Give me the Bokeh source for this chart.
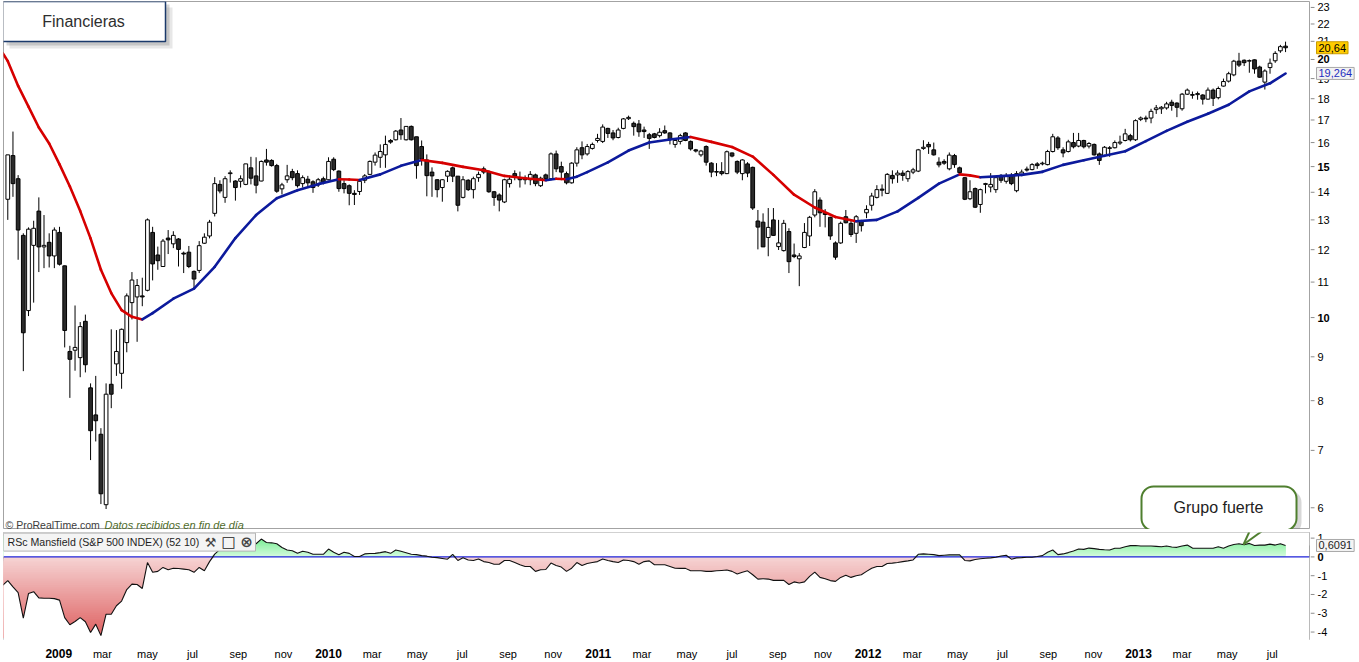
import numpy as np
import pandas as pd
from bokeh.plotting import figure
from bokeh.models import Range1d, Label, BoxAnnotation
from bokeh.layouts import column, row
from bokeh.core.properties import value
from bokeh.embed import file_html
from bokeh.resources import INLINE

FONT = "Liberation Sans"

# ---------------- data (weekly candles, first week ending 2008-10-24) ----------------
first_week = "2008-10-24"
opens = [13.74, 15.45, 14.52, 12.47, 10.19, 12.14, 13.31, 12.09, 12.24, 11.80,
 12.57, 11.49, 9.13, 9.16, 8.98, 9.90, 8.28, 7.70, 7.31, 6.05,
 8.36, 8.83, 8.61, 9.35, 10.41, 10.57, 10.60, 10.76, 12.57, 11.83,
 11.47, 12.38, 12.19, 12.35, 11.89, 11.92, 11.32, 11.35, 12.21, 12.45,
 13.23, 14.30, 13.81, 14.72, 14.43, 14.42, 14.30, 14.95, 14.63, 14.43,
 15.27, 15.25, 15.04, 14.13, 14.48, 14.80, 14.72, 14.33, 14.50, 14.40,
 14.28, 14.52, 14.48, 15.30, 14.82, 14.33, 14.25, 13.96, 14.03, 14.46,
 14.69, 15.18, 15.38, 15.48, 16.09, 16.12, 16.55, 16.12, 16.71, 16.25,
 15.83, 15.27, 14.78, 14.48, 14.18, 14.62, 14.95, 14.62, 13.81, 14.46,
 14.10, 14.56, 14.91, 14.78, 14.02, 13.90, 13.64, 14.33, 14.72, 14.56,
 14.54, 14.48, 14.67, 14.25, 14.67, 14.52, 15.52, 15.00, 14.72, 14.36,
 15.14, 15.78, 15.52, 15.75, 16.09, 16.05, 16.62, 16.42, 16.22, 16.62,
 17.06, 16.85, 16.82, 16.55, 16.34, 16.38, 16.30, 16.52, 16.42, 15.92,
 16.05, 16.42, 16.05, 15.69, 15.48, 15.83, 15.14, 14.80, 14.80, 14.72,
 15.56, 15.21, 14.72, 15.11, 14.97, 12.96, 12.92, 12.40, 13.00, 12.10,
 11.97, 12.60, 11.83, 11.71, 12.07, 12.45, 13.17, 13.71, 13.25, 13.09,
 12.22, 12.22, 13.11, 12.88, 12.54, 12.94, 13.25, 13.52, 13.81, 14.12,
 13.96, 14.65, 14.67, 14.74, 14.52, 14.78, 14.82, 15.75, 15.92, 15.69,
 15.18, 15.21, 14.91, 15.45, 14.95, 14.56, 13.76, 14.14, 13.55, 14.30,
 14.20, 14.10, 14.65, 14.42, 14.65, 14.06, 14.69, 14.90, 14.88, 15.11,
 15.11, 15.08, 15.62, 16.20, 15.69, 15.62, 16.00, 15.85, 16.09, 15.85,
 15.92, 15.52, 15.45, 15.75, 15.78, 15.98, 16.09, 16.30, 16.12, 17.03,
 17.09, 17.09, 17.48, 17.52, 17.56, 17.83, 17.79, 17.52, 18.22, 18.20,
 18.20, 18.18, 17.98, 18.42, 18.05, 18.62, 18.87, 19.19, 19.91, 19.96,
 19.91, 19.98, 19.60, 18.82, 19.57, 19.93, 20.47, 20.73]
highs = [15.48, 16.48, 14.66, 12.54, 12.74, 12.97, 13.81, 13.17, 12.54, 12.74,
 12.76, 11.50, 9.27, 10.33, 9.88, 10.08, 8.38, 8.55, 7.43, 8.38,
 9.69, 9.67, 9.71, 10.67, 11.30, 11.09, 11.13, 13.05, 12.76, 12.10,
 12.35, 12.65, 12.61, 12.38, 11.94, 12.12, 11.35, 12.28, 12.54, 13.00,
 14.58, 14.46, 14.62, 14.85, 14.46, 14.65, 15.11, 15.40, 15.38, 15.25,
 15.73, 15.30, 15.11, 14.36, 15.07, 14.91, 14.85, 14.65, 14.63, 14.46,
 14.55, 14.60, 15.38, 15.38, 14.85, 14.46, 14.30, 14.08, 14.46, 14.70,
 15.25, 15.58, 15.92, 16.30, 16.15, 16.55, 17.09, 16.71, 16.75, 16.25,
 16.09, 15.50, 14.97, 14.50, 14.50, 14.85, 15.00, 14.62, 14.62, 14.50,
 14.60, 14.80, 15.00, 14.85, 14.05, 13.96, 14.52, 14.65, 14.85, 14.80,
 14.65, 14.82, 14.72, 14.60, 14.72, 15.58, 15.66, 15.20, 14.80, 15.18,
 15.80, 16.05, 15.94, 16.00, 16.38, 16.80, 16.65, 16.55, 16.65, 17.09,
 17.20, 16.93, 17.00, 16.70, 16.42, 16.42, 16.63, 16.75, 16.45, 16.16,
 16.38, 16.45, 16.09, 15.73, 15.69, 15.88, 15.18, 15.14, 15.18, 15.66,
 15.58, 15.25, 15.30, 15.18, 15.00, 13.35, 13.23, 13.42, 13.42, 13.00,
 13.00, 12.71, 12.20, 11.89, 12.89, 13.14, 14.12, 13.81, 13.38, 13.11,
 12.27, 12.94, 13.35, 13.00, 13.17, 13.00, 13.52, 13.98, 14.27, 14.30,
 14.74, 14.85, 14.85, 14.85, 14.86, 14.95, 15.73, 16.10, 16.03, 16.00,
 15.38, 15.30, 15.58, 15.52, 15.00, 14.58, 14.46, 14.18, 14.14, 14.36,
 14.74, 14.60, 14.70, 14.74, 14.74, 14.82, 14.88, 15.00, 15.14, 15.18,
 15.20, 15.69, 16.38, 16.28, 15.80, 16.12, 16.42, 16.42, 16.12, 16.02,
 15.96, 15.58, 15.85, 15.85, 16.09, 16.30, 16.60, 16.38, 17.03, 17.16,
 17.20, 17.52, 17.70, 17.65, 17.85, 17.95, 17.83, 18.28, 18.50, 18.35,
 18.35, 18.22, 18.55, 18.50, 18.60, 19.00, 19.35, 19.98, 20.36, 20.00,
 20.00, 20.00, 19.67, 19.48, 20.05, 20.45, 20.80, 20.98]
lows = [13.00, 13.83, 11.68, 8.66, 10.04, 10.41, 11.30, 11.42, 11.44, 11.42,
 11.50, 9.23, 8.06, 8.67, 8.52, 8.63, 6.82, 7.17, 6.06, 5.98,
 7.84, 8.55, 8.26, 9.11, 9.95, 9.37, 10.31, 10.73, 11.05, 11.37,
 11.47, 11.86, 12.05, 11.47, 11.27, 11.42, 10.82, 11.27, 12.19, 12.37,
 13.12, 13.96, 13.61, 14.37, 13.69, 14.18, 14.27, 14.30, 13.96, 14.42,
 15.04, 15.00, 13.98, 13.92, 14.36, 14.46, 14.18, 14.18, 14.22, 13.98,
 14.20, 14.30, 14.46, 14.82, 14.02, 13.96, 13.52, 13.53, 13.90, 14.35,
 14.66, 15.04, 14.95, 14.95, 15.95, 16.09, 16.12, 16.09, 16.09, 14.52,
 15.04, 13.85, 13.83, 13.81, 13.65, 14.39, 14.39, 13.30, 13.77, 14.05,
 13.77, 14.40, 14.70, 13.98, 13.50, 13.30, 13.60, 14.18, 14.46, 14.18,
 14.30, 14.27, 14.23, 14.20, 14.44, 14.46, 14.78, 14.46, 14.30, 14.33,
 15.00, 15.30, 15.45, 15.70, 16.00, 15.98, 16.20, 16.10, 16.18, 16.58,
 17.00, 16.30, 16.25, 16.20, 15.73, 16.18, 16.22, 16.38, 15.92, 15.78,
 15.92, 16.06, 15.66, 15.58, 15.40, 15.04, 14.58, 14.62, 14.65, 14.70,
 15.38, 14.70, 14.46, 14.58, 13.35, 12.01, 12.09, 11.79, 12.45, 11.99,
 11.94, 11.27, 11.73, 10.88, 12.05, 12.12, 13.09, 12.76, 12.74, 12.32,
 11.68, 12.19, 12.88, 12.42, 12.22, 12.60, 13.06, 13.33, 13.77, 13.85,
 13.94, 14.33, 14.36, 14.44, 14.40, 14.70, 14.78, 15.69, 15.52, 15.45,
 14.97, 15.07, 14.85, 14.95, 14.70, 13.71, 13.71, 13.42, 13.25, 13.96,
 14.00, 13.98, 14.36, 14.33, 14.27, 14.00, 14.62, 14.80, 14.85, 14.91,
 15.05, 15.05, 15.58, 15.69, 15.38, 15.58, 15.75, 15.80, 15.75, 15.75,
 15.45, 15.07, 15.40, 15.40, 15.75, 15.90, 16.05, 16.05, 16.07, 16.95,
 16.90, 16.85, 17.28, 17.28, 17.48, 17.43, 17.13, 17.43, 18.18, 18.00,
 17.95, 17.72, 17.95, 17.65, 17.97, 18.60, 18.80, 19.12, 19.60, 19.65,
 19.30, 19.25, 19.04, 18.45, 19.25, 19.82, 20.36, 20.40]
closes = [15.48, 14.33, 12.65, 9.60, 12.68, 12.71, 12.09, 12.14, 11.80, 12.65,
 11.54, 9.66, 8.94, 9.23, 9.76, 8.81, 7.38, 7.58, 6.23, 8.14,
 8.14, 9.13, 9.69, 10.60, 11.06, 10.90, 10.57, 13.00, 11.55, 11.65,
 12.28, 12.32, 12.47, 12.01, 11.86, 11.47, 11.09, 12.13, 12.41, 12.92,
 14.33, 14.05, 14.52, 14.75, 14.18, 14.52, 15.11, 14.54, 14.27, 15.21,
 15.18, 15.04, 14.04, 14.28, 14.63, 14.56, 14.25, 14.56, 14.36, 14.18,
 14.48, 14.40, 15.21, 14.88, 14.14, 14.14, 13.96, 13.92, 14.42, 14.63,
 15.21, 15.47, 15.62, 15.92, 16.02, 16.50, 16.34, 16.71, 16.12, 15.04,
 15.31, 14.64, 14.63, 14.10, 14.48, 14.81, 14.62, 13.52, 14.48, 14.10,
 14.52, 14.69, 14.78, 14.02, 13.81, 13.71, 14.48, 14.50, 14.62, 14.48,
 14.48, 14.69, 14.33, 14.54, 14.52, 15.52, 14.91, 14.78, 14.36, 15.14,
 15.69, 15.48, 15.83, 15.92, 16.18, 16.68, 16.40, 16.20, 16.55, 17.05,
 17.12, 16.70, 16.47, 16.48, 16.18, 16.22, 16.45, 16.42, 16.15, 16.09,
 16.30, 16.09, 15.73, 15.64, 15.64, 15.18, 14.78, 14.78, 14.72, 15.61,
 15.43, 14.78, 15.27, 14.74, 13.42, 12.75, 12.09, 12.74, 12.47, 12.22,
 12.88, 11.62, 11.78, 11.80, 12.57, 13.09, 14.02, 13.25, 13.19, 12.45,
 11.76, 12.88, 12.90, 12.50, 13.11, 12.80, 13.37, 13.86, 14.10, 14.08,
 14.69, 14.52, 14.74, 14.65, 14.80, 14.87, 15.69, 15.80, 15.82, 15.48,
 15.07, 15.14, 15.47, 15.08, 14.76, 13.74, 14.02, 13.45, 14.10, 14.33,
 14.30, 14.56, 14.46, 14.65, 14.33, 14.72, 14.78, 14.86, 15.08, 15.04,
 15.14, 15.62, 16.25, 15.78, 15.56, 16.03, 15.82, 16.09, 15.82, 15.96,
 15.48, 15.25, 15.80, 15.78, 16.00, 16.02, 16.38, 16.12, 16.97, 17.09,
 17.05, 17.40, 17.56, 17.59, 17.75, 17.68, 17.59, 18.22, 18.42, 18.17,
 18.25, 17.98, 18.42, 18.02, 18.50, 18.85, 19.25, 19.91, 19.70, 19.83,
 19.94, 19.50, 19.07, 19.39, 19.80, 20.33, 20.70, 20.64]

# moving average, week index -> value
ma_weeks = [-1, 0, 2, 4, 6, 8, 10, 12, 14, 16, 18, 20, 22, 24, 26, 28, 32, 36, 40, 44,
 48, 52, 56, 60, 64, 66, 68, 72, 76, 80, 84, 88, 92, 96, 100, 104, 106, 108, 110, 112,
 116, 120, 124, 128, 132, 136, 140, 144, 148, 152, 156, 160, 164, 168, 172, 176, 180, 184, 186, 188,
 192, 196, 200, 204, 208, 212, 216, 220, 224, 228, 232, 236, 240, 244, 247]
ma_values = [20.35, 19.91, 18.63, 17.62, 16.66, 15.96, 15.09, 14.22, 13.31, 12.37,
 11.37, 10.68, 10.20, 10.02, 9.95, 10.12, 10.52, 10.81, 11.46, 12.38,
 13.17, 13.78, 14.08, 14.31, 14.50, 14.49, 14.47, 14.69, 15.03, 15.27,
 15.15, 14.99, 14.85, 14.63, 14.54, 14.46, 14.52, 14.50, 14.60, 14.78,
 15.17, 15.66, 16.00, 16.13, 16.24, 16.03, 15.81, 15.41, 14.67, 13.91,
 13.44, 13.10, 12.95, 13.00, 13.30, 13.79, 14.33, 14.69, 14.65, 14.58,
 14.62, 14.67, 14.79, 15.07, 15.26, 15.44, 15.63, 16.06, 16.51, 16.92,
 17.29, 17.71, 18.36, 18.76, 19.26]
ma_last = 19.264

# RSc Mansfield (S&P 500 INDEX) (52 10), weeks -1 .. 247
rs_values = [-1.51, -1.26, -1.60, -1.90, -3.26, -1.95, -1.85, -2.18, -2.20, -2.20,
 -2.22, -2.30, -3.23, -3.61, -3.44, -3.23, -3.45, -4.02, -3.58, -4.19,
 -3.05, -3.05, -2.60, -2.35, -1.74, -1.45, -1.47, -1.68, -0.30, -0.82,
 -0.77, -0.56, -0.68, -0.60, -0.62, -0.65, -0.68, -0.82, -0.56, -0.74,
 -0.25, 0.15, 0.40, 0.60, 0.70, 0.80, 0.75, 0.85, 0.80, 0.70,
 0.95, 0.77, 0.75, 0.70, 0.50, 0.37, 0.33, 0.19, 0.30, 0.25,
 0.14, 0.14, 0.14, 0.42, 0.25, 0.11, 0.25, 0.19, 0.02, 0.02,
 0.16, 0.18, 0.19, 0.23, 0.28, 0.19, 0.37, 0.30, 0.22, 0.14,
 0.12, 0.07, 0.04, -0.02, -0.04, -0.08, -0.12, 0.14, -0.19, -0.04,
 -0.16, -0.19, -0.11, -0.25, -0.30, -0.39, -0.39, -0.19, -0.19, -0.30,
 -0.42, -0.51, -0.51, -0.77, -0.68, -0.67, -0.33, -0.46, -0.54, -0.77,
 -0.60, -0.30, -0.46, -0.35, -0.30, -0.25, -0.11, -0.19, -0.25, -0.30,
 -0.16, -0.19, -0.25, -0.39, -0.25, -0.21, -0.42, -0.42, -0.42, -0.51,
 -0.60, -0.61, -0.61, -0.74, -0.74, -0.74, -0.77, -0.77, -0.74, -0.72,
 -0.70, -0.77, -0.91, -0.82, -0.74, -0.95, -1.18, -1.16, -1.18, -1.25,
 -1.25, -1.25, -1.47, -1.33, -1.39, -1.33, -1.04, -0.81, -1.09, -1.16,
 -1.26, -1.30, -1.09, -0.98, -1.09, -1.00, -0.95, -0.77, -0.60, -0.51,
 -0.51, -0.35, -0.33, -0.30, -0.25, -0.21, -0.16, 0.14, 0.16, 0.14,
 0.12, 0.07, 0.09, 0.11, 0.11, 0.11, -0.19, -0.21, -0.14, -0.10,
 -0.07, -0.05, -0.02, 0.05, 0.09, -0.12, -0.05, -0.04, -0.02, -0.02,
 0.02, 0.07, 0.25, 0.37, 0.12, 0.16, 0.23, 0.32, 0.42, 0.40,
 0.47, 0.44, 0.40, 0.38, 0.37, 0.46, 0.46, 0.54, 0.60, 0.61,
 0.58, 0.58, 0.58, 0.56, 0.54, 0.58, 0.53, 0.51, 0.58, 0.63,
 0.47, 0.46, 0.46, 0.46, 0.46, 0.54, 0.46, 0.58, 0.66, 0.70,
 0.65, 0.72, 0.61, 0.63, 0.63, 0.68, 0.63, 0.70, 0.61]
rs_last = 0.6091

price_ticks = list(range(6, 24))
bold_price_ticks = [10, 15, 20]
rs_ticks = [-4, -3, -2, -1, 0, 1]
bold_rs_ticks = [0]
tick_dates = pd.date_range("2009-01-01", "2013-07-01", freq="2MS")
month_names = {3: "mar", 5: "may", 7: "jul", 9: "sep", 11: "nov"}

# ---------------- geometry ----------------
WEEK = 7 * 24 * 3600 * 1000.0
t0 = pd.Timestamp(first_week).value / 1e6
O, H, L_, C = (np.array(a, dtype=float) for a in (opens, highs, lows, closes))
xs = t0 + WEEK * np.arange(len(C))

FW, FH1, FH2 = 1306, 528, 108
GAP = 3
SIDE_W = 45
AX_H = 20
XS = t0 - 0.83 * WEEK
XE = XS + 252.46 * WEEK
Y1_LO, Y1_HI = 5.66, 23.37
Y2_LO, Y2_HI = -4.45, 1.3


def xd(px):
    return XS + px * (XE - XS) / FW


def ym(px):
    return float(np.exp(np.log(Y1_HI) - px * (np.log(Y1_HI) - np.log(Y1_LO)) / FH1))


def yb(px):
    return Y2_HI - px * (Y2_HI - Y2_LO) / FH2


xr = Range1d(XS, XE)
y1r = Range1d(Y1_LO, Y1_HI)
y2r = Range1d(Y2_LO, Y2_HI)
common = dict(output_backend="svg", toolbar_location=None,
              x_axis_location=None, y_axis_location=None)

p1 = figure(width=3 + FW + 1, height=FH1 + 1, x_range=xr, y_range=y1r, y_axis_type="log",
            min_border_left=3, min_border_right=1, min_border_top=1, min_border_bottom=0, **common)
s1 = figure(width=SIDE_W, height=FH1 + 1, x_range=Range1d(0, SIDE_W), y_range=y1r,
            y_axis_type="log", min_border_left=0, min_border_right=0, min_border_top=1,
            min_border_bottom=0, **common)
p2 = figure(width=3 + FW + 1, height=FH2 + GAP, x_range=xr, y_range=y2r,
            min_border_left=3, min_border_right=1, min_border_top=GAP, min_border_bottom=0, **common)
s2 = figure(width=SIDE_W, height=FH2 + GAP, x_range=Range1d(0, SIDE_W), y_range=y2r,
            min_border_left=0, min_border_right=0, min_border_top=GAP, min_border_bottom=0, **common)
p3 = figure(width=3 + FW + 1, height=AX_H, x_range=xr, y_range=Range1d(0, AX_H),
            min_border_left=3, min_border_right=1, min_border_top=0, min_border_bottom=0, **common)

for p in (p1, s1, p2, s2, p3):
    p.grid.visible = False
    p.background_fill_color = "white"
    p.border_fill_color = "white"
    p.outline_line_color = None
for p in (p1, p2):
    p.outline_line_color = "#a3a3a3"

# ---------------- candles ----------------
up = C >= O
p1.segment(x0=xs, y0=H, x1=xs, y1=L_, line_color="black", line_width=1)
p1.vbar(x=xs[up], width=0.72 * WEEK, top=C[up], bottom=O[up],
        fill_color="white", line_color="black", line_width=1)
p1.vbar(x=xs[~up], width=0.72 * WEEK, top=O[~up], bottom=C[~up],
        fill_color="#2a2a2a", line_color="black", line_width=1)

# ---------------- moving average (red falling / blue rising) ----------------
mx = t0 + WEEK * np.array(ma_weeks, dtype=float)
my = np.array(ma_values, dtype=float)
seg_col = ["#d60000" if b < a else "#0c1a9c" for a, b in zip(my[:-1], my[1:])]
p1.segment(x0=mx[:-1], y0=my[:-1], x1=mx[1:], y1=my[1:], line_color=seg_col,
           line_width=2.6, line_cap="round")

# ---------------- RS panel ----------------
rv = np.array(rs_values, dtype=float)
rx = t0 + WEEK * (np.arange(len(rv)) - 1)


def mix(c0, c1, t):
    t = max(0.0, min(1.0, t))
    return "#%02x%02x%02x" % tuple(int(round(a + (b - a) * t)) for a, b in zip(c0, c1))


# gradient fills: stacked quads (light first, darker ones over the outer part),
# kept inside the panel so their edges are always under the white masks
red_tops = np.arange(0, -4.25, -0.1)
p2.quad(left=rx[0], right=rx[-1], top=red_tops, bottom=-4.3,
        fill_color=[mix((246, 212, 212), (222, 98, 98), -(t - 0.05) / 4.2) for t in red_tops],
        line_color=None)
green_bottoms = np.arange(0, 1.0, 0.05)
p2.quad(left=rx[0], right=rx[-1], bottom=green_bottoms, top=1.1,
        fill_color=[mix((214, 251, 222), (118, 238, 146), (b + 0.025) / 1.0) for b in green_bottoms],
        line_color=None)
# white masks outside the area between the RS line and zero (extended to the right edge)
mask_x = np.append(rx, XE)
low_edge = np.minimum(rv, 0)
high_edge = np.maximum(rv, 0)
p2.varea(x=mask_x, y1=Y2_LO - 1, y2=np.append(low_edge, low_edge[-1]), fill_color="white")
p2.varea(x=mask_x, y1=np.append(high_edge, high_edge[-1]), y2=Y2_HI + 1, fill_color="white")
p2.line(x=[XS, XE], y=[0, 0], line_color="#1e22d8", line_width=1.2)
p2.line(x=rx, y=rv, line_color="#111111", line_width=1.1)

# callout tail entering the RS panel
tail_x = [xd(1246), xd(1258), xd(1240)]
tail_y = [yb(-1), yb(-1), yb(12)]
p2.patch(x=tail_x, y=tail_y, fill_color="white", line_color=None)
p2.multi_line(xs=[[tail_x[0], tail_x[2]], [tail_x[1], tail_x[2]]],
              ys=[[tail_y[0], tail_y[2]], [tail_y[1], tail_y[2]]],
              line_color="#4f7f2f", line_width=2)


def box(p, l, r, t, b, fill, fill_alpha=1.0, line=None, lw=1.0, radius=None):
    bx = BoxAnnotation(left=l, right=r, top=t, bottom=b, fill_color=fill, fill_alpha=fill_alpha,
                       line_color=line, line_alpha=1.0 if line else 0.0, line_width=lw)
    if radius:
        try:
            bx.border_radius = radius
        except Exception:
            pass
    p.add_layout(bx)


def lab(p, x, y, text, size="11px", color="black", style="normal", align="left",
        baseline="middle", font=FONT, **kw):
    p.add_layout(Label(x=x, y=y, text=text, text_font=font, text_font_size=size,
                       text_color=color, text_font_style=style, text_align=align,
                       text_baseline=baseline, **kw))


# title box with shadow
box(p1, xd(6), xd(169), ym(6), ym(47), "#7a7a7a", 0.18)
box(p1, xd(3), xd(166), ym(3), ym(44), "#7a7a7a", 0.30)
box(p1, xd(-1), xd(162), ym(0), ym(40), "white", 1.0, "#1b3a6b", 1.5)
lab(p1, xd(80), ym(20), "Financieras", size="16px", color="#2e2e2e", align="center")

# callout bubble
box(p1, xd(1142), xd(1298), ym(FH1 - 39), ym(FH1 + 5), "#7a7a7a", 0.30, radius=12)
box(p1, xd(1138), xd(1293), ym(FH1 - 43), ym(FH1 + 1), "white", 1.0, "#4f7f2f", 2, radius=12)
lab(p1, xd(1215), ym(FH1 - 22), "Grupo fuerte", size="16px", color="#222222", align="center")

# copyright line
lab(p1, xd(2), ym(FH1 - 5), "© ProRealTime.com", size="10.5px", color="#3c3c3c",
    baseline="alphabetic")
lab(p1, xd(101), ym(FH1 - 5), "Datos recibidos en fin de día", color="#4e6b2a",
    style="italic", baseline="alphabetic")

# RS indicator title box
box(p2, xd(0), xd(252), yb(0.6), yb(18.6), "#f4f4f4", 1.0, "#b4b4b4", 1)
lab(p2, xd(4), yb(9.8), "RSc Mansfield (S&P 500 INDEX) (52 10)", size="10.6px", color="#1e1e1e")
lab(p2, xd(207), yb(9.8), "⚒", size="13px", color="#444444", align="center", font="DejaVu Sans")
lab(p2, xd(225), yb(9.8), "□", size="15px", color="#222222", align="center",
    style="bold", font="DejaVu Sans")
lab(p2, xd(243), yb(9.6), "⊗", size="15px", color="#444444", align="center",
    style="bold", font="DejaVu Sans")


# ---------------- right-hand price / RS scales ----------------
def side_scale(s, ticks, bold):
    s.segment(x0=0, y0=ticks, x1=4, y1=ticks, line_color="#8c8c8c", line_width=1)
    norm = [t for t in ticks if t not in bold]
    strong = [t for t in ticks if t in bold]
    s.text(x=[7] * len(norm), y=norm, text=[str(t) for t in norm], text_font=value(FONT),
           text_font_size=value("11px"), text_baseline="middle", text_align="left",
           text_color="black")
    s.text(x=[7] * len(strong), y=strong, text=[str(t) for t in strong], text_font=value(FONT),
           text_font_size=value("11px"), text_font_style="bold", text_baseline="middle",
           text_align="left", text_color="black")


side_scale(s1, price_ticks, bold_price_ticks)
side_scale(s2, rs_ticks, bold_rs_ticks)

lab(s1, 6, C[-1], f"{C[-1]:.2f}".replace(".", ","), color="black",
    background_fill_color="#ffcc00", border_line_color="#c99a00", padding=2)
lab(s1, 6, ma_last, f"{ma_last:.3f}".replace(".", ","), color="#1f2fbf",
    background_fill_color="#f2f2f2", border_line_color="#a8a8a8", padding=2)
lab(s2, 6, rs_last, f"{rs_last:.4f}".replace(".", ","), color="#222222",
    background_fill_color="#f4f4f4", border_line_color="#a8a8a8", padding=2)

# ---------------- date labels ----------------
tick_ms = np.array([pd.Timestamp(d).value / 1e6 for d in tick_dates])
is_year = np.array([d.month == 1 for d in tick_dates])
label_y = AX_H - 13
p3.text(x=tick_ms[~is_year], y=[label_y] * int((~is_year).sum()),
        text=[month_names[d.month] for d in tick_dates if d.month != 1],
        text_font=value(FONT), text_font_size=value("11px"), text_align="center",
        text_baseline="middle", text_color="black")
p3.text(x=tick_ms[is_year], y=[label_y] * int(is_year.sum()),
        text=[str(d.year) for d in tick_dates if d.month == 1],
        text_font=value(FONT), text_font_size=value("12px"), text_font_style="bold",
        text_align="center", text_baseline="middle", text_color="black")

layout = column(row(p1, s1, spacing=0), row(p2, s2, spacing=0), row(p3, spacing=0), spacing=0)
with open("out.html", "w", encoding="utf-8") as f:
    f.write(file_html(layout, INLINE))
